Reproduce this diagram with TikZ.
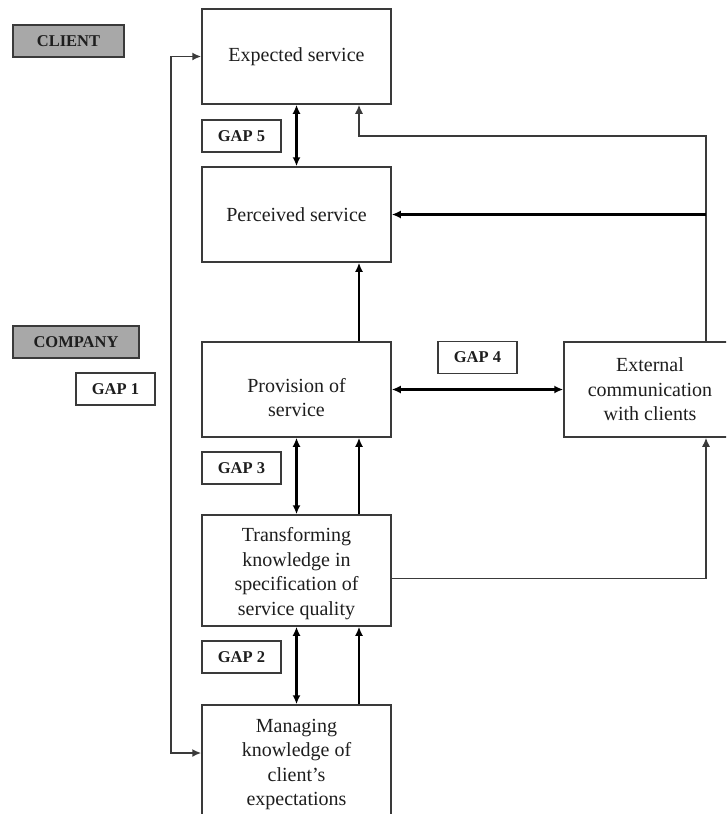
\documentclass[tikz,border=0pt]{standalone}
\usepackage{fontspec}
\setmainfont{Liberation Serif}
\usetikzlibrary{arrows.meta}
\definecolor{boxline}{HTML}{3A3A3A}
\definecolor{txt}{HTML}{1E1E1E}
\definecolor{hdr}{HTML}{A8A8A8}
\tikzset{
  mainbox/.style={draw=boxline, line width=1.5pt, minimum width=189pt, minimum height=95pt, align=center, text=txt, inner sep=2pt, font=\fontsize{20}{24.5}\selectfont},
  gapbox/.style={draw=boxline, line width=1.5pt, minimum width=79pt, minimum height=32pt, text=txt, inner sep=1pt, font=\fontsize{16.5}{18}\selectfont\bfseries},
  hdrbox/.style={gapbox, fill=hdr},
  arr/.style={draw=black, line width=2.2pt, -{Latex[length=9pt,width=8pt]}},
  darr/.style={draw=black, line width=2.2pt, {Latex[length=9pt,width=8pt]}-{Latex[length=9pt,width=8pt]}},
  thinarr/.style={draw=boxline, line width=1.5pt, -{Latex[length=9pt,width=8pt]}},
  thindarr/.style={draw=boxline, line width=1.7pt, {Latex[length=9pt,width=8pt]}-{Latex[length=9pt,width=8pt]}},
}
\begin{document}
\begin{tikzpicture}[x=1pt,y=-1pt]
\clip (0,0) rectangle (726,814);
\fill[white] (0,0) rectangle (726,814);
% main boxes
\node[mainbox] (exp) at (296.5,56.5) {Expected service};
\node[mainbox] (per) at (296.5,214.5) {Perceived service};
\node[mainbox] (prov) at (296.5,389.5) {\rule{0pt}{30pt}Provision of\\service};
\node[mainbox, minimum width=172pt] (ext) at (650,389.5) {External\\communication\\with clients};
\node[mainbox, minimum height=111pt] (tra) at (296.5,570.5) {\rule{0pt}{20pt}Transforming\\knowledge in\\specification of\\service quality};
\node[mainbox, minimum height=112pt] (man) at (296.5,761) {\rule{0pt}{20pt}Managing\\knowledge of\\client’s\\expectations};
% labels
\node[hdrbox, minimum width=111pt] (client) at (68.5,41) {CLIENT};
\node[hdrbox, minimum width=126pt] (company) at (76,342) {COMPANY};
\node[gapbox] (g1) at (115.5,389) {GAP 1};
\node[gapbox] (g2) at (241.5,657) {GAP 2};
\node[gapbox] (g3) at (241.5,468) {GAP 3};
\node[gapbox] (g4) at (477.5,357.5) {GAP 4};
\node[gapbox] (g5) at (241.5,136) {GAP 5};
% helper coordinates
\coordinate (lx) at (171,0);
\coordinate (cx) at (359,0);
\coordinate (rx) at (706,0);
\coordinate (c1) at (359,136);
% connectors
\draw[thindarr] (exp.west) -- (exp.west -| lx) |- ([yshift=8pt]man.west);
\draw[darr] (exp.south) -- (per.north);
\draw[thinarr] (ext.north -| rx) |- (c1) -- (exp.south -| c1);
\draw[arr] (per.east -| rx) -- (per.east);
\draw[arr] (prov.north -| cx) -- (per.south -| cx);
\draw[darr] (prov.east) -- (ext.west);
\draw[darr] (prov.south) -- (tra.north);
\draw[arr] (tra.north -| cx) -- (prov.south -| cx);
\draw[thinarr] ([yshift=-8pt]tra.east) -| (ext.south -| rx);
\draw[darr] (tra.south) -- (man.north);
\draw[arr] (man.north -| cx) -- (tra.south -| cx);
\end{tikzpicture}
\end{document}
